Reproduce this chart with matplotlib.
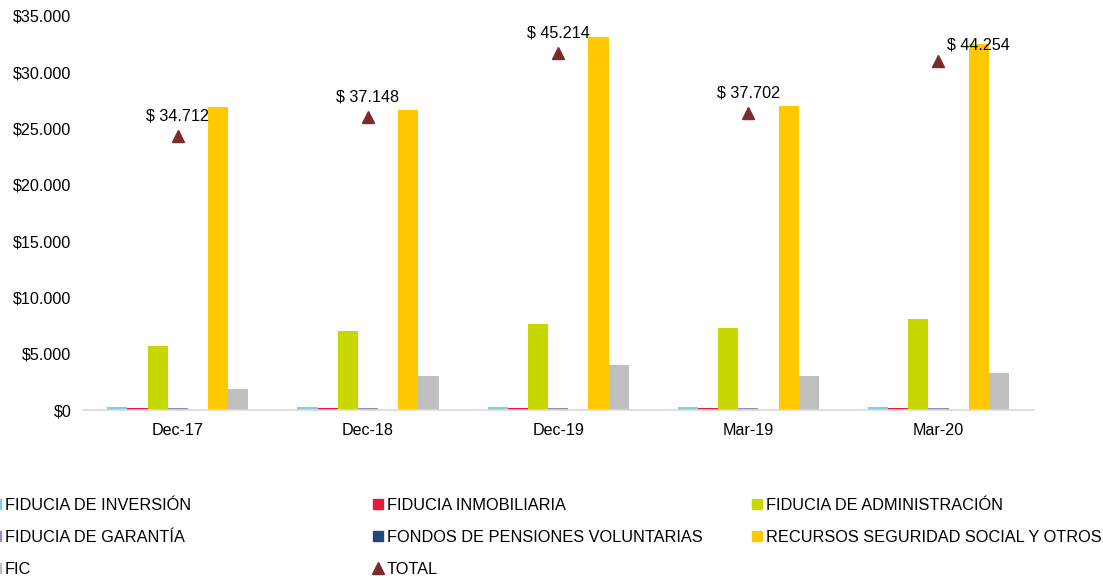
import matplotlib.pyplot as plt
import numpy as np
from matplotlib.lines import Line2D
from matplotlib.ticker import FuncFormatter

plt.rcParams["font.family"] = ["Liberation Sans", "DejaVu Sans"]

CATEGORIES = ["Dec-17", "Dec-18", "Dec-19", "Mar-19", "Mar-20"]

SERIES_NAMES = [
    "FIDUCIA DE INVERSIÓN",
    "FIDUCIA INMOBILIARIA",
    "FIDUCIA DE ADMINISTRACIÓN",
    "FIDUCIA DE GARANTÍA",
    "FONDOS DE PENSIONES VOLUNTARIAS",
    "RECURSOS SEGURIDAD SOCIAL Y OTROS",
    "FIC",
]

inversion = [280, 270, 280, 270, 260]
inmobiliaria = [170, 170, 170, 170, 170]
administracion = [5680, 7020, 7640, 7280, 8080]
garantia = [170, 170, 170, 170, 170]
pensiones = [10, 10, 10, 10, 10]
seguridad_social = [26850, 26640, 33130, 26950, 32450]
fic = [1870, 3020, 4000, 3020, 3270]
total = [34712, 37148, 45214, 37702, 44254]

SERIES_COLORS = ["#7ECBEA", "#E8173F", "#C6D800", "#9B86C0",
                 "#1F497D", "#FFC800", "#BFBFBF"]
TOTAL_COLOR = "#7B2B2B"

series_values = [inversion, inmobiliaria, administracion, garantia,
                 pensiones, seguridad_social, fic]

fig = plt.figure(figsize=(11.03, 5.8), dpi=100)
ax = fig.add_axes([0.075, 0.293, 0.862, 0.680])

x = np.arange(len(CATEGORIES))
width = 0.106
n = len(series_values)
for i, (vals, color) in enumerate(zip(series_values, SERIES_COLORS)):
    ax.bar(x + (i - (n - 1) / 2) * width, vals, width=width, color=color,
           linewidth=0)

ax.set_xlim(-0.5, len(CATEGORIES) - 0.5)
ax.set_ylim(0, 35000)
ax.set_yticks(np.arange(0, 35001, 5000))
ax.yaxis.set_major_formatter(FuncFormatter(lambda v, _: "$" + f"{int(v):,}".replace(",", ".")))
ax.set_xticks(x)
ax.set_xticklabels(CATEGORIES)
ax.tick_params(axis="both", length=0, labelsize=11.6, colors="#000000")
ax.tick_params(axis="x", pad=9)
ax.tick_params(axis="y", pad=8)
for side in ("top", "right", "left"):
    ax.spines[side].set_visible(False)
ax.spines["bottom"].set_color("#D9D9D9")
ax.spines["bottom"].set_linewidth(1.2)

# totals on a hidden secondary axis
ax2 = ax.twinx()
ax2.set_ylim(0, 50000)
ax2.axis("off")
ax2.plot(x, total, linestyle="none", marker="^", markersize=8, color=TOTAL_COLOR)
label_offsets = [(0, 9), (0, 9), (0, 9), (0, 9), (29, 6)]
for xi, t, off in zip(x, total, label_offsets):
    ax2.annotate("$ " + f"{t:,}".replace(",", "."), (xi, t), xytext=off,
                 textcoords="offset points", ha="center", va="bottom", fontsize=11.6)

# legend in three separate columns
handles = [Line2D([], [], linestyle="none", marker="s", markersize=7,
                  markerfacecolor=c, markeredgecolor=c) for c in SERIES_COLORS]
handles.append(Line2D([], [], linestyle="none", marker="^", markersize=8,
                      markerfacecolor=TOTAL_COLOR, markeredgecolor=TOTAL_COLOR))
labels = SERIES_NAMES + ["TOTAL"]
col_x = [-0.008, 0.338, 0.682]
for c, cx in enumerate(col_x):
    idx = list(range(c, len(labels), 3))
    fig.legend([handles[i] for i in idx], [labels[i] for i in idx],
               loc="upper left", bbox_to_anchor=(cx, 0.142), frameon=False,
               fontsize=11.8, handlelength=0.6, handletextpad=0.25,
               labelspacing=1.05, borderaxespad=0, borderpad=0)

fig.savefig("out.png", dpi=100)
